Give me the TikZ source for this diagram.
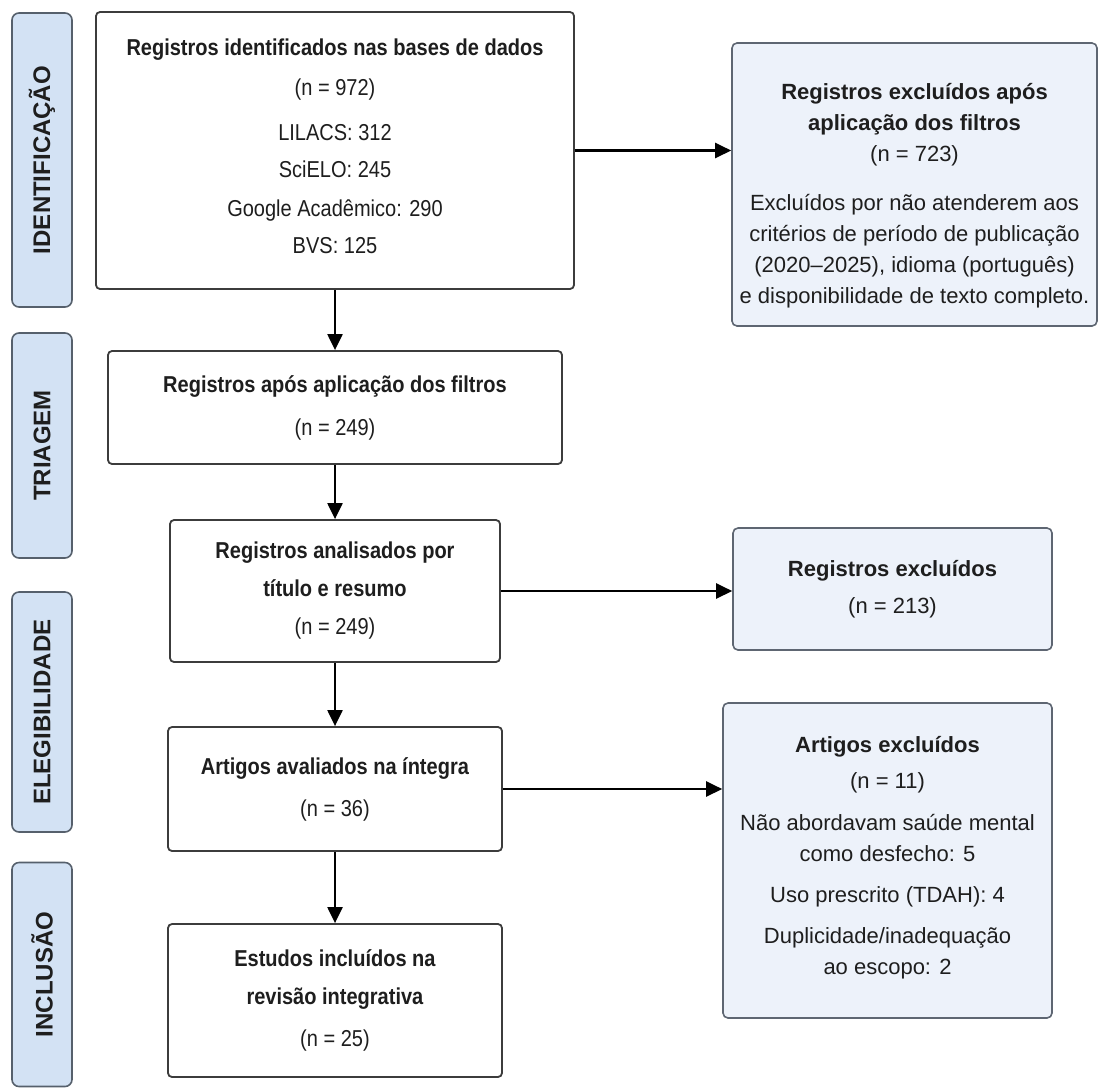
\documentclass[tikz,border=0pt]{standalone}
\usepackage{fontspec}
\setmainfont{Liberation Sans}
\newfontfamily\narrowsans{Liberation Sans}[FakeStretch=0.87]
\usetikzlibrary{arrows.meta}

\definecolor{phasefill}{HTML}{D3E2F4}
\definecolor{phaseline}{HTML}{56606C}
\definecolor{exclfill}{HTML}{EDF2FA}
\definecolor{exclline}{HTML}{5E6672}
\definecolor{boxline}{HTML}{3C3C3C}
\definecolor{inktext}{HTML}{1E1E1E}

\begin{document}
\begin{tikzpicture}[x=1pt,y=-1pt]
      \tikzset { phase/.style = { draw=phaseline, fill=phasefill, line width=1.6pt, rounded corners=7pt, rotate=90, minimum height=60pt, inner sep=0pt, text=inktext, font=\fontsize{24}{24}\selectfont\bfseries } }
      \tikzset { stage/.style = { draw=boxline, fill=white, line width=1.8pt, rounded corners=4pt, align=center, inner sep=0pt, text=inktext, font=\narrowsans\fontsize{23}{38}\selectfont } }
      \tikzset { excl/.style = { draw=exclline, fill=exclfill, line width=1.6pt, rounded corners=5pt, align=center, inner sep=0pt, text=inktext, font=\fontsize{22}{31}\selectfont } }
      \tikzset { edge/.style = { -{Triangle[length=16pt,width=15pt]}, line width=2.2pt, draw=black } }

      \useasboundingbox (0,0) rectangle (1099,1088);

      % fases
      \node[phase, minimum width=294pt] (pid) at (42,160) {IDENTIFICAÇÃO};
      \node[phase, minimum width=225pt] (ptri) at (42,445.5) {TRIAGEM};
      \node[phase, minimum width=240pt] (pele) at (42,712) {ELEGIBILIDADE};
      \node[phase, minimum width=224pt] (pinc) at (42,974.5) {INCLUSÃO};

      % fluxo principal
      \node[stage, minimum width=478pt, minimum height=277pt, font=\narrowsans\fontsize{23}{37}\selectfont] (ident) at (335,150.5)
        {\textbf{Registros identificados nas bases de dados}\\[3pt](n = 972)\\[8pt]LILACS: 312\\SciELO: 245\\[2pt]Google Acadêmico: 290\\BVS: 125\\[-28pt]\mbox{}};
      \node[stage, minimum width=454pt, minimum height=113pt] (filt) at (335,407.5)
        {\textbf{Registros após aplicação dos filtros}\\[5pt](n = 249)};
      \node[stage, minimum width=330pt, minimum height=142pt] (anal) at (335,591)
        {\textbf{Registros analisados por}\\\textbf{título e resumo}\\(n = 249)};
      \node[stage, minimum width=334pt, minimum height=124pt] (aval) at (335,789)
        {\textbf{Artigos avaliados na íntegra}\\[4pt](n = 36)};
      \node[stage, minimum width=334pt, minimum height=153pt] (incl) at (335,1000.5)
        {\textbf{Estudos incluídos na}\\\textbf{revisão integrativa}\\[4pt](n = 25)};

      % exclusoes
      \node[excl, minimum width=365pt, minimum height=283pt] (exA) at (914.5,184.5)
        {\mbox{}\\[7pt]\textbf{Registros excluídos após}\\\textbf{aplicação dos filtros}\\(n = 723)\\[18pt]Excluídos por não atenderem aos\\critérios de período de publicação\\(2020–2025), idioma (português)\\e disponibilidade de texto completo.};
      \node[excl, minimum width=319pt, minimum height=122pt] (exB) at (892.5,589)
        {\textbf{Registros excluídos}\\[6pt](n = 213)};
      \node[excl, minimum width=329pt, minimum height=315pt] (exC) at (887.5,860.5)
        {\textbf{Artigos excluídos}\\[5pt](n = 11)\\[11pt]Não abordavam saúde mental\\como desfecho: 5\\[10pt]Uso prescrito (TDAH): 4\\[10pt]Duplicidade/inadequação\\ao escopo: 2\\[-20pt]\mbox{}};

      \draw[edge] (ident) to (filt);
      \draw[edge] (filt) to (anal);
      \draw[edge] (anal) to (aval);
      \draw[edge] (aval) to (incl);
      \draw[edge] (ident.east) to (ident.east -| exA.west);
      \draw[edge] (anal.east) to (anal.east -| exB.west);
      \draw[edge] (aval.east) to (aval.east -| exC.west);

    \end{tikzpicture}
\end{document}
